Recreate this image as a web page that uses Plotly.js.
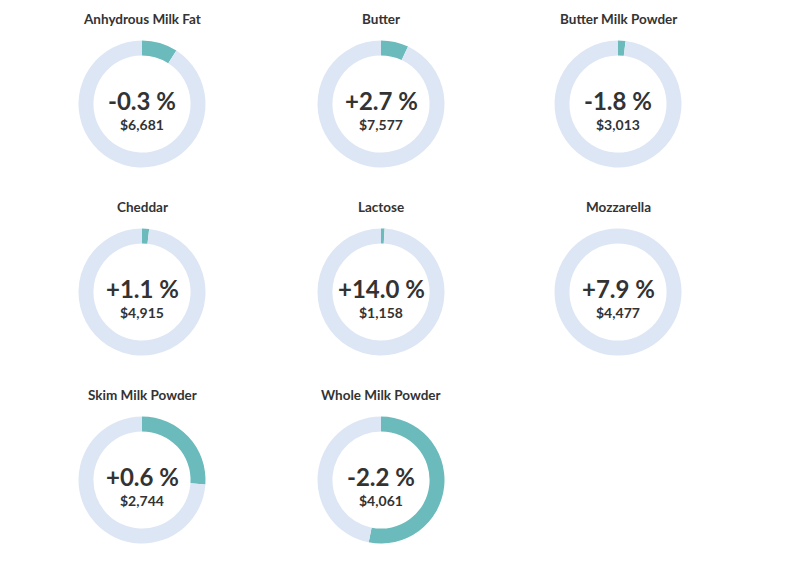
<!DOCTYPE html>
<html>
<head>
<meta charset="utf-8">
<script src="https://cdn.plot.ly/plotly-3.0.1.min.js"></script>
<style>
  html, body { margin: 0; padding: 0; background: #fff; }
  #chart { width: 800px; height: 564px; }
</style>
</head>
<body>
<div id="chart"></div>
<script>
// Data
const products = ["Anhydrous Milk Fat", "Butter", "Butter Milk Powder", "Cheddar", "Lactose", "Mozzarella", "Skim Milk Powder", "Whole Milk Powder"];
const sharePct = [9.1, 7.0, 1.9, 1.8, 0.9, 0.0, 26.1, 53.1];      // teal slice share (% of ring)
const changeLabels = ["-0.3 %", "+2.7 %", "-1.8 %", "+1.1 %", "+14.0 %", "+7.9 %", "+0.6 %", "-2.2 %"];
const priceLabels = ["$6,681", "$7,577", "$3,013", "$4,915", "$1,158", "$4,477", "$2,744", "$4,061"];

// Layout (pixels)
const W = 800, H = 564;
const colX = [142, 381, 618];
const rowY = [104, 292, 480];
const R = 63.5;
const TEAL = "#6bbabc";
const LIGHT = "#dde6f4";
const TXT = "#333333";
const FONT = "Lato, 'Open Sans', sans-serif";

const traces = [];
const annotations = [];
products.forEach((name, i) => {
  const cx = colX[i % 3], cy = rowY[Math.floor(i / 3)];
  traces.push({
    type: "pie",
    values: [sharePct[i], 100 - sharePct[i]],
    labels: ["share", "rest"],
    sort: false,
    direction: "clockwise",
    rotation: 0,
    hole: 0.765,
    textinfo: "none",
    hoverinfo: "skip",
    showlegend: false,
    marker: { colors: [TEAL, LIGHT], line: { width: 0 } },
    domain: { x: [(cx - R) / W, (cx + R) / W], y: [(H - cy - R) / H, (H - cy + R) / H] }
  });
  annotations.push({
    xref: "paper", yref: "paper", x: cx / W, y: (H - cy + 85) / H,
    text: "<b>" + name + "</b>", showarrow: false, xanchor: "center", yanchor: "middle",
    font: { family: FONT, size: 13.5, color: TXT }
  });
  annotations.push({
    xref: "paper", yref: "paper", x: cx / W, y: (H - cy + 4) / H,
    text: "<b>" + changeLabels[i] + "</b>", showarrow: false, xanchor: "center", yanchor: "middle",
    font: { family: FONT, size: 24, color: TXT }
  });
  annotations.push({
    xref: "paper", yref: "paper", x: cx / W, y: (H - cy - 20.5) / H,
    text: "<b>" + priceLabels[i] + "</b>", showarrow: false, xanchor: "center", yanchor: "middle",
    font: { family: FONT, size: 14, color: TXT }
  });
});

Plotly.newPlot("chart", traces, {
  width: W, height: H,
  margin: { l: 0, r: 0, t: 0, b: 0 },
  paper_bgcolor: "#ffffff",
  plot_bgcolor: "#ffffff",
  annotations: annotations,
  showlegend: false
}, { staticPlot: true, displayModeBar: false });
</script>
</body>
</html>
